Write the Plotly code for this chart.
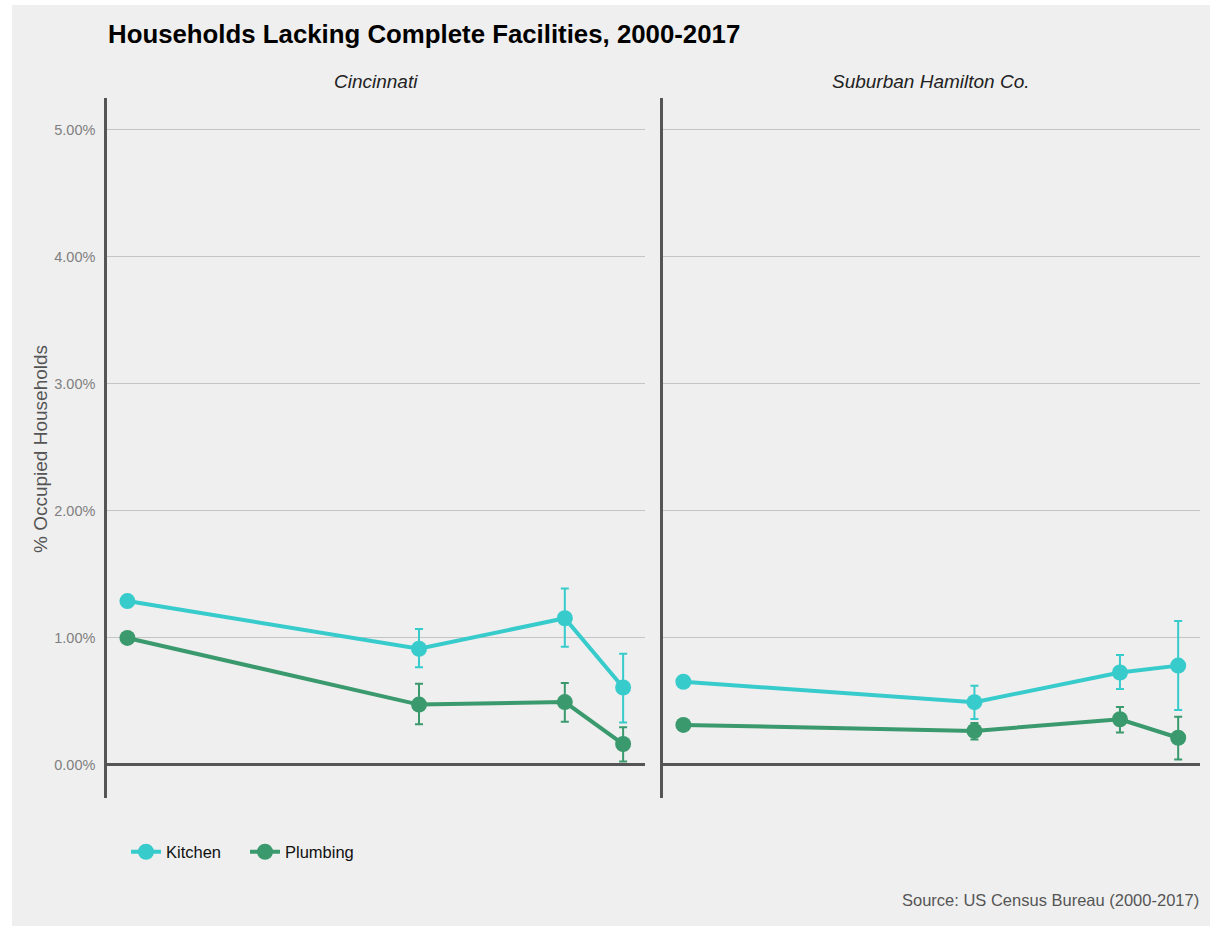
import plotly.graph_objects as go

# Survey years shared by both places
years = [2000, 2010, 2015, 2017]

# Percent of occupied households lacking complete facilities
cin_kitchen = [1.29, 0.915, 1.155, 0.61]
cin_kitchen_lo = [None, 0.77, 0.93, 0.335]
cin_kitchen_hi = [None, 1.07, 1.39, 0.875]

cin_plumbing = [1.00, 0.475, 0.495, 0.165]
cin_plumbing_lo = [None, 0.32, 0.34, 0.027]
cin_plumbing_hi = [None, 0.64, 0.645, 0.297]

sub_kitchen = [0.655, 0.494, 0.728, 0.782]
sub_kitchen_lo = [None, 0.362, 0.598, 0.433]
sub_kitchen_hi = [None, 0.624, 0.865, 1.134]

sub_plumbing = [0.315, 0.268, 0.36, 0.214]
sub_plumbing_lo = [None, 0.20, 0.256, 0.043]
sub_plumbing_hi = [None, 0.33, 0.457, 0.38]

y_ticks = [0, 1, 2, 3, 4, 5]
y_tick_labels = ["0.00%", "1.00%", "2.00%", "3.00%", "4.00%", "5.00%"]

KITCHEN = "#38CBCB"
PLUMBING = "#3A9A6D"
FONT = "Liberation Sans, Arial, sans-serif"

W, H = 1210, 926
ML, MR, MT, MB = 107, 10, 98, 128
PW, PH = W - ML - MR, H - MT - MB


def px_x(p):
    return (p - ML) / PW


def px_y(p):
    return (H - MB - p) / PH


def err(vals, lo, hi):
    plus = [None if h is None else h - v for v, h in zip(vals, hi)]
    minus = [None if l is None else v - l for v, l in zip(vals, lo)]
    return plus, minus


fig = go.Figure()

panels = [
    ("x", "y", cin_kitchen, cin_kitchen_lo, cin_kitchen_hi,
     cin_plumbing, cin_plumbing_lo, cin_plumbing_hi, True),
    ("x2", "y2", sub_kitchen, sub_kitchen_lo, sub_kitchen_hi,
     sub_plumbing, sub_plumbing_lo, sub_plumbing_hi, False),
]

for xa, ya, k, klo, khi, p, plo, phi, show in panels:
    for name, vals, lo, hi, color in [
        ("Kitchen", k, klo, khi, KITCHEN),
        ("Plumbing", p, plo, phi, PLUMBING),
    ]:
        plus, minus = err(vals, lo, hi)
        fig.add_trace(go.Scatter(
            x=years, y=vals, name=name, legendgroup=name, showlegend=show,
            mode="lines+markers", xaxis=xa, yaxis=ya,
            line=dict(color=color, width=4),
            marker=dict(color=color, size=16),
            error_y=dict(type="data", array=plus, arrayminus=minus,
                         symmetric=False, color=color, thickness=2, width=4),
        ))

xcommon = dict(range=[1999.3, 2017.75], showticklabels=False, showgrid=False,
               zeroline=False, showline=False, ticks="")
ycommon = dict(range=[-0.26, 5.25], tickvals=y_ticks, showgrid=True,
               gridcolor="#C4C4C4", gridwidth=1, zeroline=True,
               zerolinecolor="#555555", zerolinewidth=2.5, showline=True,
               linecolor="#555555", linewidth=2.5, ticks="")

fig.update_layout(
    width=W, height=H,
    margin=dict(l=ML, r=MR, t=MT, b=MB),
    paper_bgcolor="white",
    plot_bgcolor="rgba(0,0,0,0)",
    font=dict(family=FONT),
    xaxis=dict(domain=[0, px_x(645)], **xcommon),
    xaxis2=dict(domain=[px_x(663), 1], anchor="y2", **xcommon),
    yaxis=dict(anchor="x", ticktext=y_tick_labels,
               tickfont=dict(size=14.5, color="#7F7F7F"), ticklabelstandoff=6,
               **ycommon),
    yaxis2=dict(anchor="x2", matches="y", showticklabels=False, **ycommon),
    showlegend=True,
    legend=dict(orientation="h", x=px_x(126), y=px_y(852), yanchor="middle",
                xanchor="left", font=dict(size=16.5, color="#111111"),
                bgcolor="rgba(0,0,0,0)", itemwidth=30,
                entrywidth=74, entrywidthmode="pixels"),
)

fig.add_shape(type="rect", xref="paper", yref="paper",
              x0=px_x(12), x1=px_x(1215), y0=px_y(931), y1=px_y(5),
              fillcolor="#EFEFEF", line=dict(width=0), layer="below")

annotations = [
    dict(text="<b>Households Lacking Complete Facilities, 2000-2017</b>",
         x=px_x(106), y=px_y(34), xanchor="left", yanchor="middle",
         font=dict(size=25.8, color="black")),
    dict(text="<i>Cincinnati</i>", x=px_x(376), y=px_y(81),
         xanchor="center", yanchor="middle",
         font=dict(size=19, color="#222222")),
    dict(text="<i>Suburban Hamilton Co.</i>", x=px_x(931), y=px_y(81),
         xanchor="center", yanchor="middle",
         font=dict(size=19, color="#222222")),
    dict(text="% Occupied Households", x=px_x(40), y=px_y(449),
         textangle=-90, xanchor="center", yanchor="middle",
         font=dict(size=19, color="#555555")),
    dict(text="Source: US Census Bureau (2000-2017)", x=px_x(1201),
         y=px_y(900), xanchor="right", yanchor="middle",
         font=dict(size=16.5, color="#555555")),
]
for a in annotations:
    fig.add_annotation(xref="paper", yref="paper", showarrow=False, **a)

fig.write_html("out.html")
